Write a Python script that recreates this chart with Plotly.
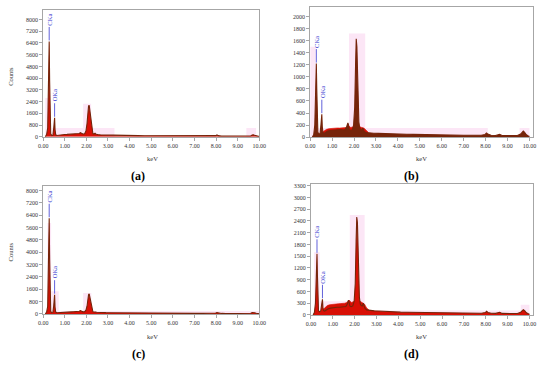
import plotly.graph_objects as go

# ---------------- data ----------------
energy_keV = [0.10, 0.16, 0.21, 0.24, 0.26, 0.28, 0.30, 0.32, 0.35, 0.40,
              0.45, 0.49, 0.51, 0.53, 0.55, 0.58, 0.63, 0.70, 0.80, 0.90,
              1.00, 1.10, 1.20, 1.30, 1.40, 1.50, 1.60, 1.67, 1.72, 1.75,
              1.78, 1.84, 1.92, 1.98, 2.03, 2.07, 2.10, 2.13, 2.16, 2.19,
              2.22, 2.26, 2.30, 2.35, 2.40, 2.43, 2.47, 2.55, 2.65, 2.75,
              2.90, 3.10, 3.30, 3.50, 3.80, 4.10, 4.40, 4.70, 5.00, 5.40,
              5.80, 6.20, 6.60, 7.00, 7.40, 7.80, 7.98, 8.04, 8.10, 8.25,
              8.45, 8.58, 8.64, 8.75, 9.00, 9.25, 9.45, 9.60, 9.67, 9.72,
              9.78, 9.86, 9.95, 10.00]

counts_a = [0, 150, 600, 2600, 5600, 6500, 3800, 900, 200, 90,
            110, 600, 1250, 1300, 500, 150, 90, 110, 140, 150,
            160, 165, 170, 175, 180, 185, 195, 230, 280, 250,
            200, 190, 210, 400, 900, 1700, 2100, 2150, 1800, 1500,
            900, 400, 220, 190, 240, 200, 160, 140, 130, 125,
            115, 110, 100, 95, 90, 85, 80, 75, 72, 68,
            64, 60, 56, 52, 50, 48, 80, 130, 80, 48,
            45, 70, 75, 45, 42, 40, 40, 60, 120, 140,
            110, 60, 30, 20]

counts_b = [0, 40, 200, 650, 1100, 1220, 800, 250, 80, 50,
            60, 200, 370, 380, 180, 80, 60, 80, 100, 110,
            115, 120, 125, 120, 125, 118, 125, 180, 235, 200,
            130, 110, 120, 200, 500, 1200, 1630, 1500, 900, 450,
            250, 150, 120, 110, 150, 120, 90, 75, 70, 68,
            65, 62, 58, 55, 52, 50, 47, 45, 42, 40,
            38, 36, 34, 32, 30, 30, 45, 70, 50, 30,
            28, 40, 45, 28, 27, 26, 26, 50, 90, 100,
            80, 40, 20, 15]

counts_c = [0, 120, 500, 2400, 5300, 6200, 3600, 800, 180, 80,
            100, 550, 1200, 1250, 450, 130, 80, 90, 110, 120,
            125, 130, 135, 135, 140, 140, 150, 180, 220, 190,
            150, 140, 150, 250, 500, 1000, 1250, 1300, 1100, 850,
            500, 250, 150, 130, 160, 130, 110, 100, 95, 90,
            85, 80, 76, 72, 68, 64, 60, 57, 54, 50,
            48, 45, 42, 40, 38, 36, 60, 85, 60, 36,
            34, 50, 55, 34, 32, 30, 30, 50, 85, 95,
            75, 45, 25, 15]

counts_d = [0, 60, 300, 850, 1400, 1560, 1000, 300, 110, 80,
            100, 250, 390, 400, 200, 110, 100, 130, 160, 175,
            185, 190, 195, 195, 200, 205, 215, 280, 380, 320,
            230, 210, 230, 350, 800, 1900, 2500, 2350, 1500, 800,
            450, 280, 240, 230, 300, 240, 170, 130, 120, 115,
            105, 100, 92, 85, 78, 72, 68, 64, 60, 56,
            52, 50, 48, 45, 43, 42, 60, 95, 65, 42,
            40, 60, 70, 40, 38, 36, 36, 70, 120, 135,
            110, 55, 30, 20]

# noisy raw envelope visible above the spectrum outline in (b) and (d)
envelope_keV = [0.58, 0.65, 0.75, 0.85, 0.95, 1.05, 1.15, 1.25, 1.35, 1.45,
                1.55, 1.65, 1.75, 1.85, 1.95, 2.05, 2.15, 2.25, 2.35, 2.45,
                2.55, 2.65]
envelope_b = [90, 110, 130, 140, 145, 150, 148, 152, 150, 155,
              150, 160, 190, 160, 170, 200, 190, 170, 160, 150,
              110, 80]
envelope_d = [150, 200, 240, 260, 270, 280, 285, 285, 290, 290,
              300, 320, 380, 320, 340, 400, 400, 350, 320, 280,
              180, 130]

for _c in (counts_a, counts_b, counts_c, counts_d):
    assert len(_c) == len(energy_keV)

panel_labels = ["(a)", "(b)", "(c)", "(d)"]
x_tick_values = [0, 1, 2, 3, 4, 5, 6, 7, 8, 9, 10]
y_tick_steps = [800, 200, 800, 300]
y_axis_max = [8650, 2160, 8280, 3330]
x_axis_max = [10.0, 10.15, 10.0, 10.15]
line_names = ["CKa", "OKa"]
line_windows = [(0.2, 0.35), (0.45, 0.6)]

# highlighted (ROI) regions: (keV from, keV to, counts top)
roi_a = [(0.10, 0.24, 2650), (0.12, 0.35, 600), (0.40, 3.30, 600),
         (1.85, 2.22, 2250), (9.40, 9.85, 600)]
roi_b = [(0.00, 0.25, 1500), (0.05, 8.10, 150), (1.77, 2.51, 1720),
         (9.55, 10.0, 150)]
roi_c = [(0.20, 0.37, 5900), (0.37, 0.72, 1470), (1.85, 2.23, 1360),
         (0.70, 10.0, 190)]
roi_d = [(0.15, 0.40, 1600), (0.40, 2.00, 350), (1.78, 2.46, 2550),
         (2.46, 9.60, 115), (9.60, 10.0, 260)]

# ---------------- layout helpers ----------------
W, H = 550, 366
def fx(p):
    return p / W
def fy(p):
    return 1 - p / H

SERIF = "Liberation Serif, Times New Roman, serif"
RED = "#d80f05"
BROWN = "#76240a"
PINK = "#fce6f6"
BLUE = "#3a3ad0"
FRAME = "#a6a6a6"

panels = [
    dict(counts=counts_a, env=None, fill=RED, roi=roi_a, xd=(39, 260),
         yd=(136.7, 8), counts_y=75, keV=(151, 158.5), lab=(136, 176)),
    dict(counts=counts_b, env=envelope_b, fill=BROWN, roi=roi_b, xd=(312, 539.5),
         yd=(137, 5), counts_y=None, keV=(426, 158.5), lab=(416, 176)),
    dict(counts=counts_c, env=None, fill=RED, roi=roi_c, xd=(39, 260),
         yd=(316.3, 186.7), counts_y=253, keV=(151, 339), lab=(136, 357)),
    dict(counts=counts_d, env=envelope_d, fill=RED, roi=roi_d, xd=(312.7, 539.5),
         yd=(317.3, 185), counts_y=None, keV=(426, 339), lab=(416, 357)),
]

fig = go.Figure()
shapes = []
annotations = []
layout = {}

for i, p in enumerate(panels):
    n = "" if i == 0 else str(i + 1)
    xa, ya = "x" + n, "y" + n
    if p["env"] is not None:
        fig.add_trace(go.Scatter(
            x=envelope_keV, y=p["env"], xaxis=xa, yaxis=ya, mode="lines",
            fill="tozeroy", fillcolor=RED, line=dict(color=RED, width=0.6),
            hoverinfo="skip", showlegend=False))
    fig.add_trace(go.Scatter(
        x=energy_keV, y=p["counts"], xaxis=xa, yaxis=ya, mode="lines",
        fill="tozeroy", fillcolor=p["fill"],
        line=dict(color=BROWN, width=1.1), hoverinfo="skip", showlegend=False))

    layout["xaxis" + n] = dict(
        domain=[fx(p["xd"][0]), fx(p["xd"][1])], anchor=ya,
        range=[0, x_axis_max[i]], tickvals=x_tick_values, tickformat=".2f",
        showgrid=False, zeroline=False, showline=True, mirror=True,
        linecolor=FRAME, linewidth=1, ticks="outside", ticklen=3,
        tickcolor=FRAME, tickfont=dict(family=SERIF, size=6, color="#333333"))
    layout["yaxis" + n] = dict(
        domain=[fy(p["yd"][0]), fy(p["yd"][1])], anchor=xa,
        range=[0, y_axis_max[i]], dtick=y_tick_steps[i], tick0=0,
        showgrid=False, zeroline=False, showline=True, mirror=True,
        linecolor=FRAME, linewidth=1, ticks="outside", ticklen=3,
        tickcolor=FRAME, tickfont=dict(family=SERIF, size=6, color="#333333"))

    for (x0, x1, top) in p["roi"]:
        shapes.append(dict(type="rect", xref=xa, yref=ya, x0=x0, x1=x1,
                           y0=0, y1=top, fillcolor=PINK, line=dict(width=0),
                           layer="below"))

    # element line markers at the peak maxima
    for name, (lo, hi) in zip(line_names, line_windows):
        idx = [k for k, e in enumerate(energy_keV) if lo <= e <= hi]
        k = max(idx, key=lambda j: p["counts"][j])
        annotations.append(dict(
            x=energy_keV[k], y=p["counts"][k], xref=xa, yref=ya,
            text=name, textangle=-90, showarrow=True, arrowhead=0,
            arrowwidth=0.8, arrowcolor=BLUE, ax=0, ay=-22, standoff=1,
            font=dict(family=SERIF, size=6.5, color=BLUE)))

    annotations.append(dict(
        x=fx(p["keV"][0]), y=fy(p["keV"][1]), xref="paper", yref="paper",
        text="keV", showarrow=False, xanchor="center", yanchor="middle",
        font=dict(family=SERIF, size=6.5, color="#333333")))
    annotations.append(dict(
        x=fx(p["lab"][0]), y=fy(p["lab"][1]), xref="paper", yref="paper",
        text="<b>" + panel_labels[i] + "</b>", showarrow=False,
        xanchor="center", yanchor="middle",
        font=dict(family=SERIF, size=12, color="#000000")))
    if p["counts_y"] is not None:
        annotations.append(dict(
            x=fx(6), y=fy(p["counts_y"]), xref="paper",
            yref="paper", text="Counts", textangle=-90, showarrow=False,
            xanchor="center", yanchor="middle",
            font=dict(family=SERIF, size=6.5, color="#333333")))

fig.update_layout(
    width=W, height=H, margin=dict(l=0, r=0, t=0, b=0),
    paper_bgcolor="white", plot_bgcolor="white",
    shapes=shapes, annotations=annotations, showlegend=False, **layout)

fig.write_html("out.html",
               config={"displayModeBar": False},
               post_script="document.body.style.margin='0';"
                           "document.body.style.padding='0';")
